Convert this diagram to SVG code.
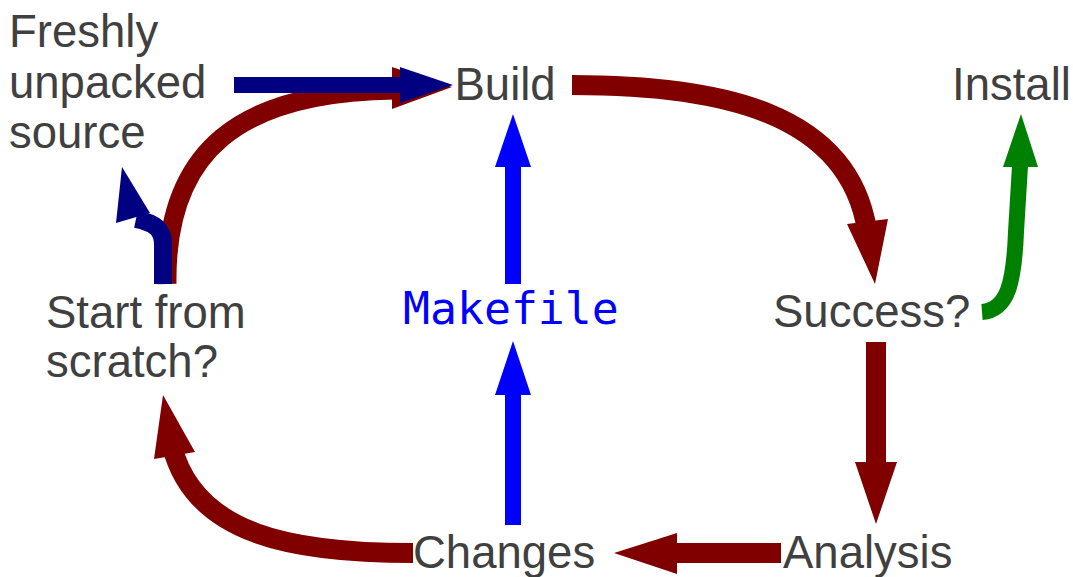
<svg xmlns="http://www.w3.org/2000/svg" width="1073" height="577" viewBox="0 0 1073 577">
  <style>
    .label { font-family: "Liberation Sans", Arial, sans-serif; font-size: 45.5px; fill: #404040; }
    .code { font-family: "DejaVu Sans Mono", "Liberation Mono", monospace; font-size: 44.8px; fill: #0000ff; }
    .shaft { fill: none; stroke-linecap: butt; }
    .red { stroke: #800000; }
    .red-head { fill: #800000; }
    .navy { stroke: #000080; }
    .navy-head { fill: #000080; }
    .blue { stroke: #0000ff; }
    .blue-head { fill: #0000ff; }
    .green { stroke: #008000; }
    .green-head { fill: #008000; }
  </style>

  <rect width="1073" height="577" fill="#ffffff"/>

  <g id="connectors">
    <!-- Start from scratch? -> Build -->
    <path class="shaft red" stroke-width="19" d="M167,284 C165,150 240,92 395,90"/>
    <polygon class="red-head" points="392,67 392,109 452,87"/>

    <!-- Build -> Success? -->
    <path class="shaft red" stroke-width="20" d="M572,85 C720,85 848,112 867,230"/>
    <polygon class="red-head" points="847,224 888,219 875,284"/>

    <!-- Success? -> Analysis -->
    <path class="shaft red" stroke-width="20" d="M876,342 L876,464"/>
    <polygon class="red-head" points="855,462 897,462 876,524"/>

    <!-- Analysis -> Changes -->
    <path class="shaft red" stroke-width="20" d="M781,553 L675,553"/>
    <polygon class="red-head" points="677,533 677,574 614,553"/>

    <!-- Changes -> Start from scratch? -->
    <path class="shaft red" stroke-width="20" d="M413,553 C290,553 194,534 172,446"/>
    <polygon class="red-head" points="154,459 195,452 163,395"/>

    <!-- Freshly unpacked source -> Build -->
    <path class="shaft navy" stroke-width="16" d="M234,85 L402,85"/>
    <polygon class="navy-head" points="400,67 400,103 453,85"/>

    <!-- Start from scratch? -> Freshly unpacked source -->
    <path class="shaft navy" stroke-width="18" d="M163,284 L163,245 C163,229 155,223 136,219"/>
    <polygon class="navy-head" points="116,223 150,213 122,167"/>

    <!-- Makefile -> Build -->
    <path class="shaft blue" stroke-width="16" d="M513,284 L513,166"/>
    <polygon class="blue-head" points="495,167 531,167 513,114"/>

    <!-- Changes -> Makefile -->
    <path class="shaft blue" stroke-width="16" d="M513,525 L513,394"/>
    <polygon class="blue-head" points="495,395 531,395 513,341"/>

    <!-- Success? -> Install -->
    <path class="shaft green" stroke-width="16" d="M982,312 C1008,310 1014,282 1016,232 L1020,166"/>
    <polygon class="green-head" points="1003,167 1038,167 1021,114"/>
  </g>

  <g id="node-source">
    <text class="label" x="9" y="47">Freshly</text>
    <text class="label" x="9" y="97.5">unpacked</text>
    <text class="label" x="9" y="148">source</text>
  </g>

  <g id="node-build">
    <text class="label" x="454.5" y="100">Build</text>
  </g>

  <g id="node-install">
    <text class="label" x="952" y="100">Install</text>
  </g>

  <g id="node-start">
    <text class="label" x="46" y="328">Start from</text>
    <text class="label" x="46" y="377">scratch?</text>
  </g>

  <g id="node-makefile">
    <text class="code" x="403" y="324">Makefile</text>
  </g>

  <g id="node-success">
    <text class="label" x="773" y="327">Success?</text>
  </g>

  <g id="node-changes">
    <text class="label" x="413" y="568">Changes</text>
  </g>

  <g id="node-analysis">
    <text class="label" x="783" y="568">Analysis</text>
  </g>
</svg>
